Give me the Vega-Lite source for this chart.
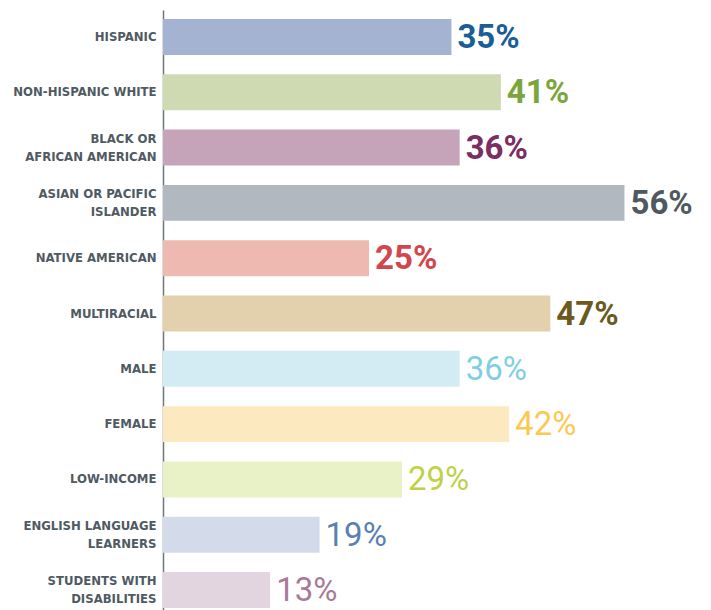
{
  "$schema": "https://vega.github.io/schema/vega-lite/v6.json",
  "autosize": {"type": "none"},
  "width": 548,
  "height": 607,
  "padding": {"left": 163, "top": 10, "right": 0, "bottom": 0},
  "background": "white",
  "config": {"view": {"stroke": null}},
  "data": {
    "values": [
      {"group": "HISPANIC", "kind": "Race/ethnicity", "rate": 0.35},
      {"group": "NON-HISPANIC WHITE", "kind": "Race/ethnicity", "rate": 0.41},
      {"group": "BLACK OR|AFRICAN AMERICAN", "kind": "Race/ethnicity", "rate": 0.36},
      {"group": "ASIAN OR PACIFIC|ISLANDER", "kind": "Race/ethnicity", "rate": 0.56},
      {"group": "NATIVE AMERICAN", "kind": "Race/ethnicity", "rate": 0.25},
      {"group": "MULTIRACIAL", "kind": "Race/ethnicity", "rate": 0.47},
      {"group": "MALE", "kind": "Other", "rate": 0.36},
      {"group": "FEMALE", "kind": "Other", "rate": 0.42},
      {"group": "LOW-INCOME", "kind": "Other", "rate": 0.29},
      {"group": "ENGLISH LANGUAGE|LEARNERS", "kind": "Other", "rate": 0.19},
      {"group": "STUDENTS WITH|DISABILITIES", "kind": "Other", "rate": 0.13}
    ]
  },
  "encoding": {
    "y": {
      "field": "group", "type": "nominal", "sort": null,
      "scale": {"paddingInner": 0.35, "paddingOuter": 0.163},
      "axis": {
        "title": null, "ticks": false, "domain": true,
        "domainColor": "#6d777d", "domainWidth": 1.5,
        "labelExpr": "split(datum.value, '|')",
        "labelFont": "DejaVu Sans Condensed, DejaVu Sans, sans-serif",
        "labelFontWeight": "bold", "labelFontSize": 13, "labelLineHeight": 18,
        "labelOffset": {"condition": {"test": "indexof(datum.value, '|') >= 0", "value": -9}, "value": 0},
        "labelColor": "#4f5a62", "labelPadding": 7, "labelLimit": 0
      }
    },
    "x": {
      "field": "rate", "type": "quantitative",
      "scale": {"domain": [0, 0.665], "nice": false},
      "axis": null
    }
  },
  "layer": [
    {
      "mark": {"type": "bar", "cornerRadius": 0},
      "encoding": {
        "color": {
          "field": "group", "type": "nominal", "legend": null,
          "scale": {
            "domain": ["HISPANIC", "NON-HISPANIC WHITE", "BLACK OR|AFRICAN AMERICAN", "ASIAN OR PACIFIC|ISLANDER", "NATIVE AMERICAN", "MULTIRACIAL", "MALE", "FEMALE", "LOW-INCOME", "ENGLISH LANGUAGE|LEARNERS", "STUDENTS WITH|DISABILITIES"],
            "range": ["#a3b3d1", "#cfdab3", "#c5a4b9", "#b1b8bf", "#eeb9b1", "#e2d1ac", "#d3ecf3", "#fde9c0", "#e9f2c6", "#d3daea", "#e2d5df"]
          }
        }
      }
    },
    {
      "transform": [{"filter": "datum.kind == 'Race/ethnicity'"}],
      "mark": {"type": "text", "align": "left", "baseline": "middle", "dx": 6, "dy": 1, "font": "Roboto", "fontSize": 33, "fontWeight": "bold"},
      "encoding": {
        "text": {"field": "rate", "type": "quantitative", "format": ".0%"},
        "color": {
          "field": "group", "type": "nominal", "legend": null,
          "scale": {
            "domain": ["HISPANIC", "NON-HISPANIC WHITE", "BLACK OR|AFRICAN AMERICAN", "ASIAN OR PACIFIC|ISLANDER", "NATIVE AMERICAN", "MULTIRACIAL", "MALE", "FEMALE", "LOW-INCOME", "ENGLISH LANGUAGE|LEARNERS", "STUDENTS WITH|DISABILITIES"],
            "range": ["#1a5e96", "#7ba63c", "#7a2e62", "#4f5a60", "#d2474d", "#6b5a1e", "#7fcfe0", "#fbc94f", "#bed148", "#5a80b3", "#a87a97"]
          }
        }
      }
    },
    {
      "transform": [{"filter": "datum.kind == 'Other'"}],
      "mark": {"type": "text", "align": "left", "baseline": "middle", "dx": 6, "dy": 1, "font": "Roboto", "fontSize": 33, "fontWeight": "normal"},
      "encoding": {
        "text": {"field": "rate", "type": "quantitative", "format": ".0%"},
        "color": {
          "field": "group", "type": "nominal", "legend": null,
          "scale": {
            "domain": ["HISPANIC", "NON-HISPANIC WHITE", "BLACK OR|AFRICAN AMERICAN", "ASIAN OR PACIFIC|ISLANDER", "NATIVE AMERICAN", "MULTIRACIAL", "MALE", "FEMALE", "LOW-INCOME", "ENGLISH LANGUAGE|LEARNERS", "STUDENTS WITH|DISABILITIES"],
            "range": ["#1a5e96", "#7ba63c", "#7a2e62", "#4f5a60", "#d2474d", "#6b5a1e", "#7fcfe0", "#fbc94f", "#bed148", "#5a80b3", "#a87a97"]
          }
        }
      }
    }
  ],
  "resolve": {"scale": {"color": "independent"}}
}
